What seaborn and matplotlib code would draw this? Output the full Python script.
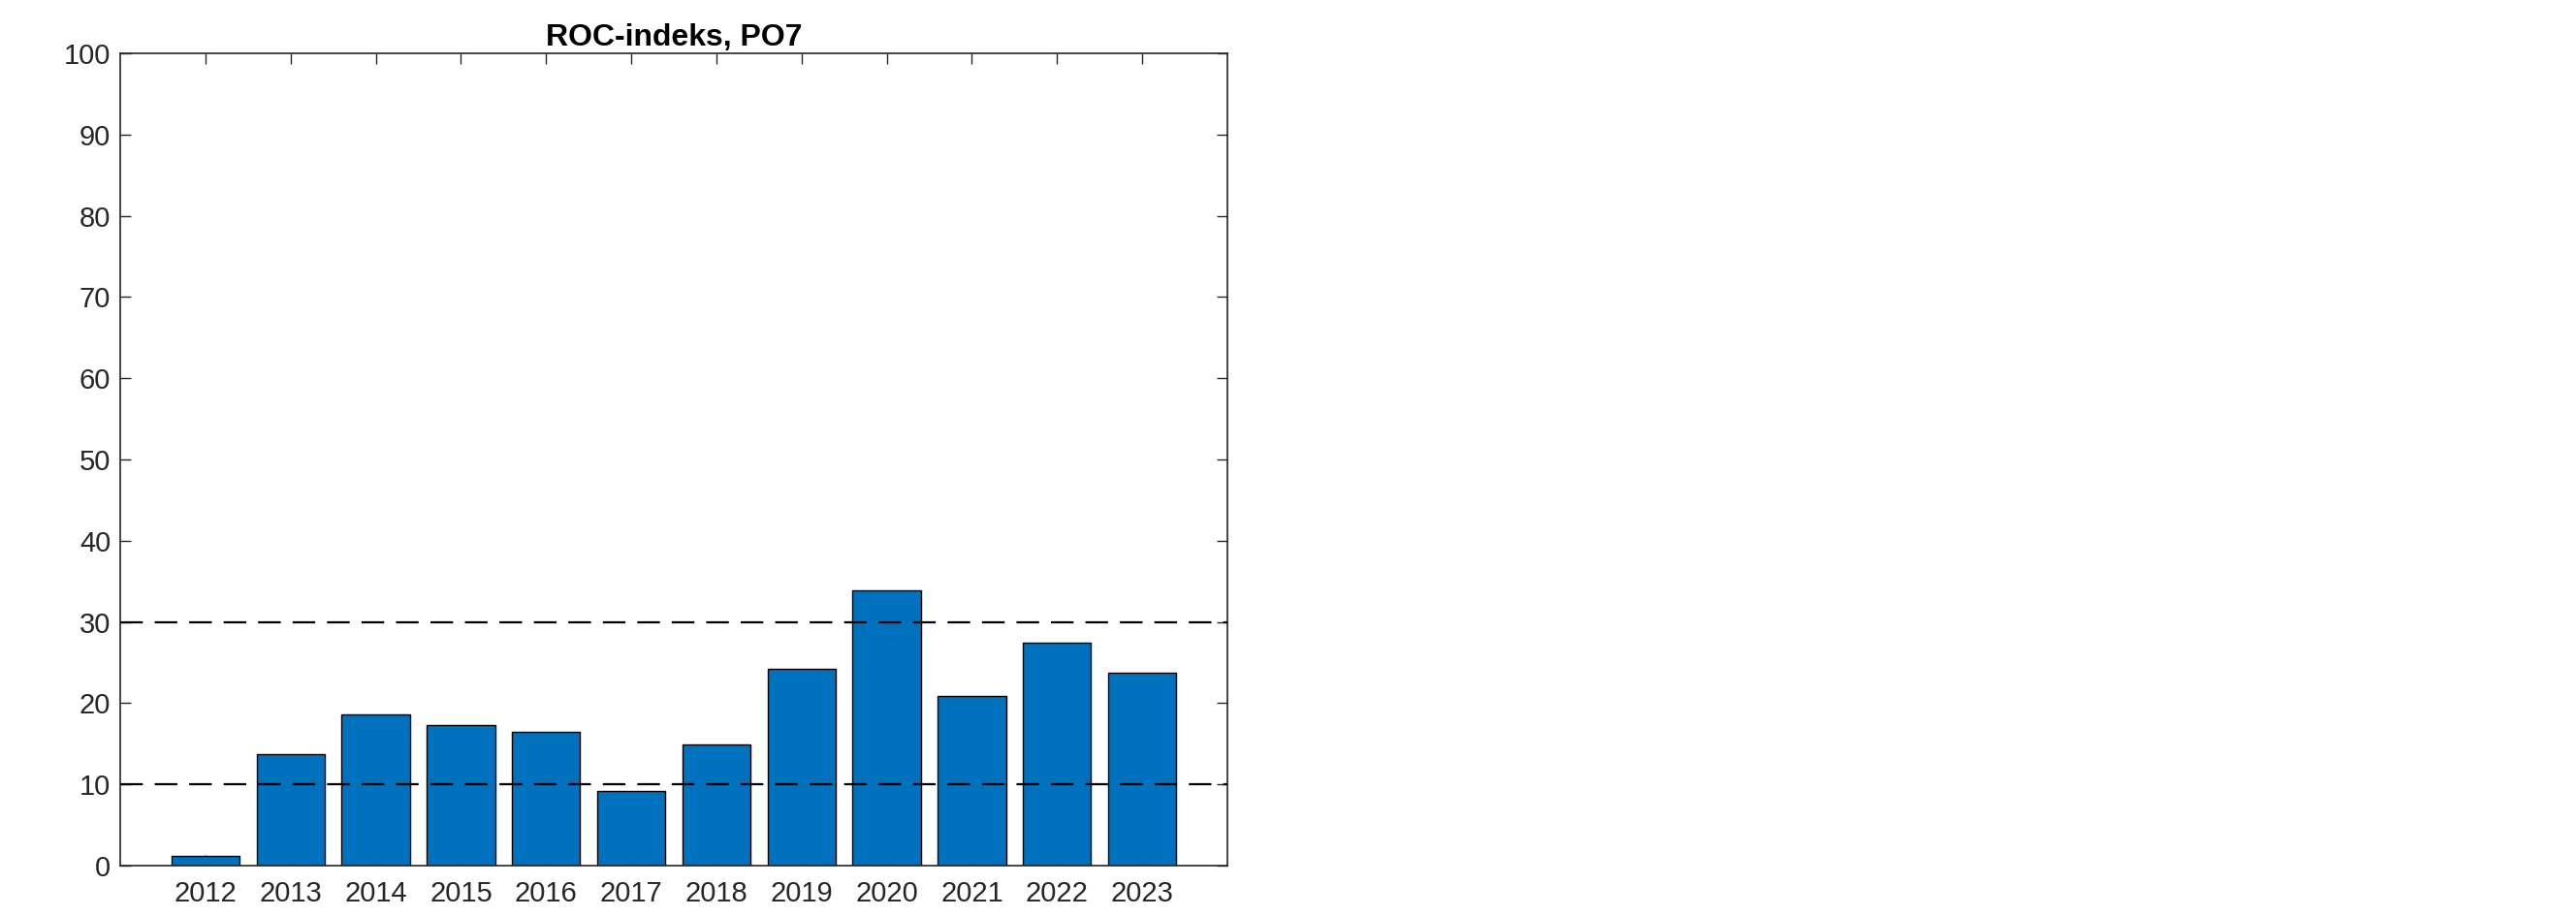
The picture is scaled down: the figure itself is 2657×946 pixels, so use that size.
import matplotlib
matplotlib.use("Agg")
import matplotlib.pyplot as plt
import seaborn as sns
import pandas as pd

years = ["2012", "2013", "2014", "2015", "2016", "2017", "2018", "2019", "2020", "2021", "2022", "2023"]
roc_values = [1.2, 13.7, 18.6, 17.3, 16.5, 9.15, 14.9, 24.2, 33.85, 20.85, 27.5, 23.8]
thresholds = [10, 30]
y_ticks = list(range(0, 101, 10))
title = "ROC-indeks, PO7"

sns.set_theme(style="white")
plt.rcParams["font.family"] = ["Liberation Sans", "DejaVu Sans"]

df = pd.DataFrame({"year": years, "roc": roc_values})

W, H, DPI = 2657, 946, 100
fig = plt.figure(figsize=(W / DPI, H / DPI), dpi=DPI)
ax = fig.add_axes([124 / W, 1 - 893 / H, (1266 - 124) / W, (893 - 55) / H])

sns.barplot(data=df, x="year", y="roc", order=years, color="#0072BD", saturation=1,
            width=0.8, edgecolor="black", linewidth=1.0, ax=ax, zorder=2)

for t in thresholds:
    ax.axhline(t, color="black", linewidth=1.6, linestyle=(0, (10.5, 5.5)), zorder=3)

ax.set_xlim(-1, len(years))
ax.set_ylim(0, 100)
ax.set_yticks(y_ticks)
ax.set_xlabel("")
ax.set_ylabel("")
ax.set_title(title, fontsize=23, fontweight="bold", pad=6, color="black")

edge = "#262626"
for s in ax.spines.values():
    s.set_visible(True)
    s.set_color(edge)
    s.set_linewidth(1.2)

ax.tick_params(axis="both", direction="in", length=8, width=1.0, color=edge,
               labelsize=21, labelcolor=edge, top=True, right=True,
               bottom=True, left=True)
ax.tick_params(axis="x", pad=11)
ax.tick_params(axis="y", pad=7)
ax.grid(False)

fig.savefig("out.png", dpi=DPI, facecolor="white")
